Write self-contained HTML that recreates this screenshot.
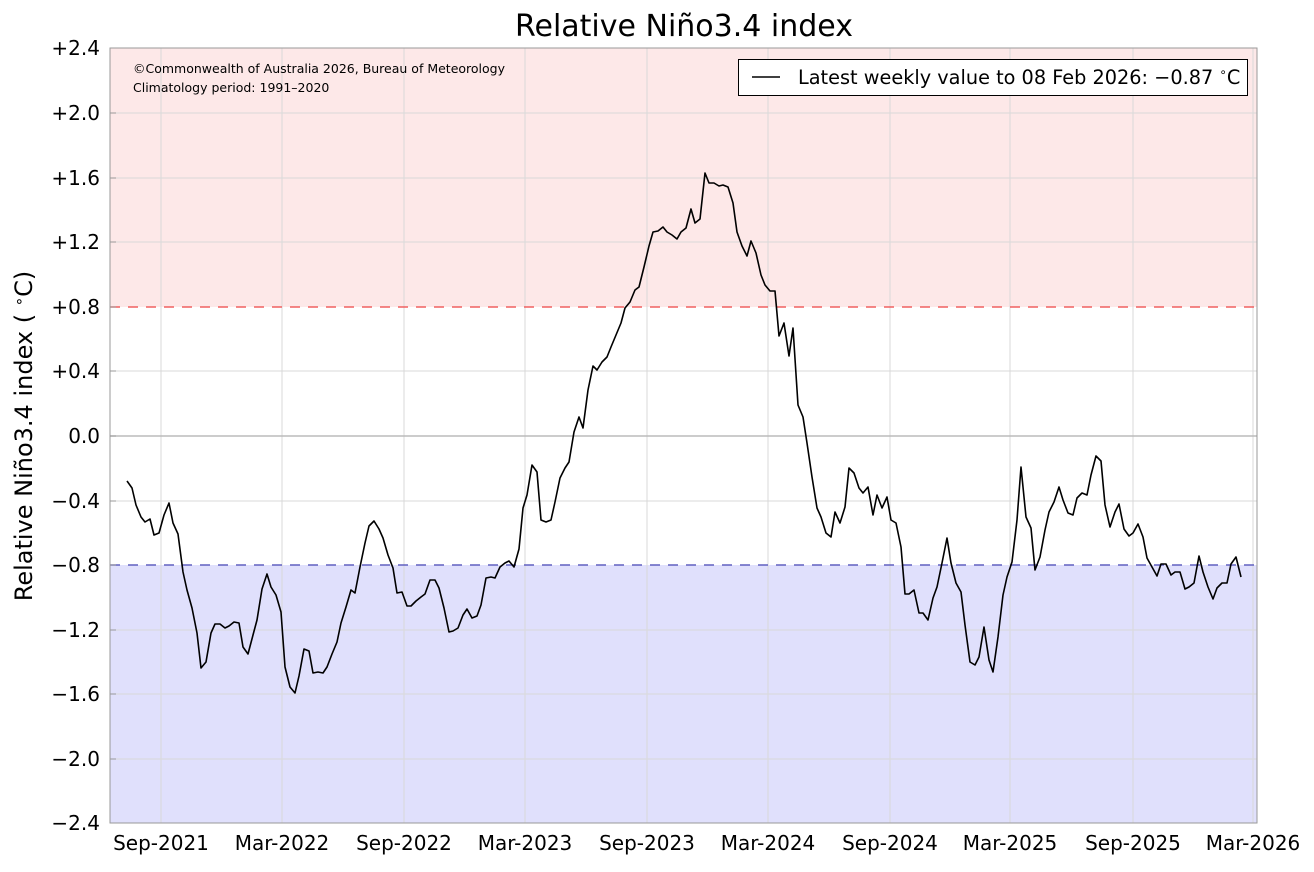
<!DOCTYPE html>
<html><head><meta charset="utf-8"><style>
html,body{margin:0;padding:0;background:#fff;}
svg{display:block;font-family:"DejaVu Sans","Liberation Sans",sans-serif;}
</style></head><body>
<svg width="1314" height="872" viewBox="0 0 1314 872" xmlns="http://www.w3.org/2000/svg">
<rect x="110" y="48" width="1147" height="259" fill="#fde8e8"/>
<rect x="110" y="565" width="1147" height="258" fill="#e0e0fc"/>
<g stroke="#d9d9d9" stroke-width="1">
<line x1="110" x2="1257" y1="113" y2="113"/><line x1="110" x2="1257" y1="178" y2="178"/>
<line x1="110" x2="1257" y1="242" y2="242"/><line x1="110" x2="1257" y1="371" y2="371"/>
<line x1="110" x2="1257" y1="501" y2="501"/><line x1="110" x2="1257" y1="630" y2="630"/>
<line x1="110" x2="1257" y1="694" y2="694"/><line x1="110" x2="1257" y1="759" y2="759"/>
<line x1="161" x2="161" y1="48" y2="823"/><line x1="282" x2="282" y1="48" y2="823"/>
<line x1="404" x2="404" y1="48" y2="823"/><line x1="525" x2="525" y1="48" y2="823"/>
<line x1="647" x2="647" y1="48" y2="823"/><line x1="768" x2="768" y1="48" y2="823"/>
<line x1="890" x2="890" y1="48" y2="823"/><line x1="1010" x2="1010" y1="48" y2="823"/>
<line x1="1133" x2="1133" y1="48" y2="823"/><line x1="1253" x2="1253" y1="48" y2="823"/>
</g>
<line x1="110" x2="1257" y1="436" y2="436" stroke="#bbb" stroke-width="1.5"/>
<line x1="110" x2="1257" y1="307" y2="307" stroke="#f06060" stroke-width="1.5" stroke-dasharray="10,8"/>
<line x1="110" x2="1257" y1="565" y2="565" stroke="#6060c0" stroke-width="1.5" stroke-dasharray="10,8"/>
<rect x="110" y="48" width="1147" height="775" fill="none" stroke="#999" stroke-width="1"/>
<polyline fill="none" stroke="#000" stroke-width="1.6" stroke-linejoin="round" points="127,481 132,488 136,505 141,517 145,522 150,519 154,535 159,533 164,515 169,503 173,523 178,534 183,572 187,590 192,608 197,633 201,668 206,662 211,633 215,624 220,624 225,628 229,626 234,622 239,623 243,647 248,654 253,635 257,620 262,589 267,574 271,587 276,595 281,612 285,667 290,687 295,693 299,676 304,649 309,651 313,673 318,672 323,673 327,667 332,654 337,642 341,623 346,607 351,590 355,593 360,567 365,543 369,526 374,521 379,529 383,538 388,555 393,568 397,593 402,592 407,606 411,606 416,601 421,597 425,594 430,580 435,580 439,588 444,608 449,632 453,631 458,628 463,615 467,609 472,618 477,616 481,605 486,578 491,577 495,578 500,567 505,563 509,561 514,567 519,549 523,508 527,495 532,465 537,472 541,520 546,522 551,520 555,502 560,478 565,468 569,462 574,432 579,417 583,428 588,390 593,366 597,370 602,362 607,357 611,347 616,335 621,323 625,308 630,302 635,290 639,287 644,267 649,246 653,232 658,231 663,227 667,232 672,235 677,239 681,232 686,228 691,209 695,223 700,219 705,173 709,183 714,183 719,186 723,185 728,187 733,203 737,232 742,246 747,256 751,241 756,253 761,275 765,285 770,291 775,291 779,336 784,323 789,356 793,328 798,405 803,417 807,443 812,477 817,508 821,517 826,533 831,537 835,512 840,523 845,507 849,468 854,473 859,488 863,493 868,487 873,515 877,495 882,508 887,497 891,520 896,523 901,547 905,594 909,594 914,590 919,613 923,613 928,620 933,598 937,587 942,563 947,538 951,563 956,583 961,592 965,625 970,662 975,665 979,657 984,627 989,660 993,672 998,637 1003,595 1007,577 1012,562 1017,520 1021,467 1026,517 1031,528 1035,570 1040,557 1045,530 1049,512 1054,502 1059,487 1063,500 1068,513 1073,515 1077,498 1082,493 1087,495 1091,475 1096,456 1101,461 1105,505 1110,527 1115,512 1119,504 1124,529 1129,536 1133,533 1138,524 1143,537 1147,558 1152,567 1157,576 1161,564 1166,564 1171,575 1175,572 1180,572 1185,589 1189,587 1194,583 1199,556 1203,572 1208,587 1213,599 1217,588 1222,583 1227,583 1231,564 1236,557 1241,577"/>
<g stroke="#999" stroke-width="1">
<line x1="110" x2="116" y1="48" y2="48"/><line x1="110" x2="116" y1="113" y2="113"/><line x1="110" x2="116" y1="178" y2="178"/><line x1="110" x2="116" y1="242" y2="242"/><line x1="110" x2="116" y1="307" y2="307"/><line x1="110" x2="116" y1="371" y2="371"/><line x1="110" x2="116" y1="436" y2="436"/><line x1="110" x2="116" y1="501" y2="501"/><line x1="110" x2="116" y1="565" y2="565"/><line x1="110" x2="116" y1="630" y2="630"/><line x1="110" x2="116" y1="694" y2="694"/><line x1="110" x2="116" y1="759" y2="759"/><line x1="110" x2="116" y1="823" y2="823"/>
</g>
<g font-size="20" fill="#000" text-anchor="end">
<text x="100" y="55">+2.4</text><text x="100" y="120">+2.0</text><text x="100" y="185">+1.6</text><text x="100" y="249">+1.2</text><text x="100" y="314">+0.8</text><text x="100" y="378">+0.4</text><text x="100" y="443">0.0</text><text x="100" y="508">−0.4</text><text x="100" y="572">−0.8</text><text x="100" y="637">−1.2</text><text x="100" y="701">−1.6</text><text x="100" y="766">−2.0</text><text x="100" y="830">−2.4</text>
</g>
<g font-size="20" fill="#000" text-anchor="middle">
<text x="161" y="850">Sep-2021</text><text x="282" y="850">Mar-2022</text><text x="404" y="850">Sep-2022</text><text x="525" y="850">Mar-2023</text><text x="647" y="850">Sep-2023</text><text x="768" y="850">Mar-2024</text><text x="890" y="850">Sep-2024</text><text x="1010" y="850">Mar-2025</text><text x="1133" y="850">Sep-2025</text><text x="1253" y="850">Mar-2026</text>
</g>
<text x="684" y="36" font-size="30" text-anchor="middle">Relative Niño3.4 index</text>
<text transform="translate(32,436) rotate(-90)" font-size="24" text-anchor="middle">Relative Niño3.4 index ( <tspan font-size="15" dy="-8">∘</tspan><tspan dy="8">C)</tspan></text>
<text x="133" y="73" font-size="12.5">©Commonwealth of Australia 2026, Bureau of Meteorology</text>
<text x="133" y="92" font-size="12.5">Climatology period: 1991–2020</text>
<rect x="738.5" y="59.5" width="509" height="36" fill="#fff" stroke="#000" stroke-width="1"/>
<line x1="752" x2="780" y1="77" y2="77" stroke="#000" stroke-width="1.6"/>
<text x="798" y="84" font-size="19.3">Latest weekly value to 08 Feb 2026: −0.87 <tspan font-size="12" dy="-8">∘</tspan><tspan dy="8">C</tspan></text>
</svg>
</body></html>
